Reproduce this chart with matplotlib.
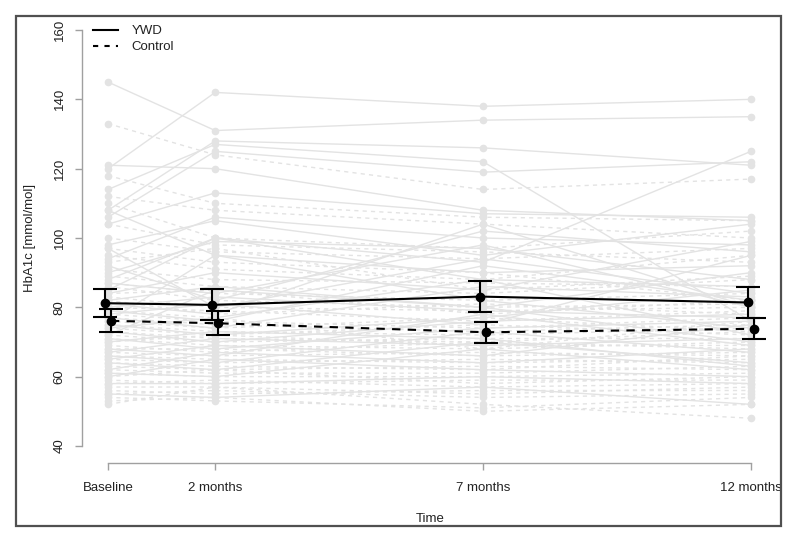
import matplotlib
matplotlib.use("Agg")
import matplotlib.pyplot as plt
from matplotlib.patches import Rectangle
from matplotlib.lines import Line2D

# ---------------- data ----------------
times = [0, 2, 7, 12]
time_labels = ["Baseline", "2 months", "7 months", "12 months"]

# individual trajectories (HbA1c, mmol/mol) at baseline, 2, 7, 12 months
ywd_subjects = [
    [145, 131, 134, 135],
    [120, 142, 138, 140],
    [108, 128, 126, 121],
    [114, 127, 122, 76],
    [106, 125, 119, 122],
    [121, 120, 108, 105],
    [104, 113, 107, 106],
    [98, 105, 95, 104],
    [88, 100, 93, 125],
    [94, 106, 100, 98],
    [92, 82, 102, 96],
    [90, 99, 97, 88],
    [108, 95, 90, 92],
    [87, 84, 98, 80],
    [85, 100, 88, 86],
    [84, 90, 85, 99],
    [97, 80, 94, 84],
    [82, 86, 80, 90],
    [81, 78, 104, 80],
    [80, 83, 79, 77],
    [79, 76, 92, 82],
    [78, 81, 75, 95],
    [77, 74, 86, 83],
    [76, 95, 82, 74],
    [75, 72, 77, 85],
    [74, 77, 88, 72],
    [73, 70, 76, 78],
    [72, 85, 80, 70],
    [71, 68, 74, 76],
    [70, 73, 71, 63],
    [68, 66, 78, 69],
    [67, 71, 69, 71],
    [66, 64, 73, 67],
    [65, 69, 66, 75],
    [64, 62, 70, 64],
    [62, 67, 64, 68],
    [61, 60, 68, 62],
    [60, 65, 62, 60],
    [58, 58, 60, 58],
    [55, 54, 57, 52],
]

control_subjects = [
    [133, 124, 114, 117],
    [118, 110, 106, 105],
    [112, 108, 104, 100],
    [110, 100, 97, 102],
    [104, 98, 96, 93],
    [100, 96, 94, 97],
    [97, 93, 90, 82],
    [95, 91, 88, 95],
    [93, 97, 85, 89],
    [91, 88, 87, 86],
    [89, 86, 84, 88],
    [87, 84, 82, 84],
    [86, 82, 80, 81],
    [84, 85, 78, 82],
    [83, 80, 79, 80],
    [82, 78, 81, 78],
    [80, 79, 76, 79],
    [79, 77, 68, 76],
    [78, 76, 74, 77],
    [77, 75, 73, 75],
    [76, 74, 77, 73],
    [75, 73, 72, 74],
    [74, 72, 75, 72],
    [73, 71, 70, 73],
    [72, 70, 71, 71],
    [71, 69, 68, 70],
    [70, 72, 69, 69],
    [69, 67, 70, 68],
    [68, 68, 66, 67],
    [67, 66, 67, 66],
    [66, 65, 64, 65],
    [65, 64, 65, 64],
    [64, 63, 62, 66],
    [63, 62, 63, 62],
    [62, 61, 61, 63],
    [61, 60, 60, 61],
    [60, 62, 58, 60],
    [59, 58, 59, 59],
    [58, 59, 57, 58],
    [57, 57, 55, 57],
    [56, 55, 56, 56],
    [55, 56, 54, 55],
    [54, 53, 51, 54],
    [53, 54, 50, 52],
    [52, 57, 52, 48],
]

# group means with error bars
ywd_mean = [81.2, 80.7, 83.1, 81.4]
ywd_lower = [77.1, 76.2, 78.6, 77.0]
ywd_upper = [85.3, 85.2, 87.6, 85.9]
ctl_mean = [76.1, 75.4, 72.8, 73.8]
ctl_lower = [72.8, 72.0, 69.6, 70.9]
ctl_upper = [79.6, 78.8, 75.9, 77.0]

# ---------------- plot ----------------
W, H = 800, 542
fig = plt.figure(figsize=(W / 100, H / 100), dpi=100)
plt.rcParams["font.family"] = ["Liberation Sans", "DejaVu Sans"]
FS = 9.5
TXT = "#222222"

# outer frame of the screenshot
fig.patches.append(Rectangle((16 / W, 1 - 526 / H), (781 - 16) / W, (526 - 16) / H,
                             transform=fig.transFigure, fill=False,
                             edgecolor="#505050", linewidth=1.6, zorder=0))

left, right = 82.3 / W, 776.7 / W
top, bottom = 1 - 13.4 / H, 1 - 462.6 / H
ax = fig.add_axes([left, bottom, right - left, top - bottom])
ax.set_xlim(-0.48, 12.48)
ax.set_ylim(35.2, 164.8)
ax.patch.set_alpha(0)

grey = "#e3e3e3"
for s in ywd_subjects:
    ax.plot(times, s, color=grey, lw=1.0, ls="-", marker="o", ms=4.5,
            mec=grey, mfc=grey, zorder=1)
for s in control_subjects:
    ax.plot(times, s, color=grey, lw=1.0, ls=(0, (3, 3)), marker="o", ms=4.5,
            mec=grey, mfc=grey, zorder=1)

off = 0.055
xy = [t - off for t in times]
xc = [t + off for t in times]
ax.errorbar(xy, ywd_mean,
            yerr=[[m - l for m, l in zip(ywd_mean, ywd_lower)],
                  [u - m for m, u in zip(ywd_mean, ywd_upper)]],
            color="black", lw=1.5, elinewidth=1.5, capsize=8.3, capthick=1.5,
            marker="o", ms=6, ls="-", zorder=3)
ax.errorbar(xc, ctl_mean,
            yerr=[[m - l for m, l in zip(ctl_mean, ctl_lower)],
                  [u - m for m, u in zip(ctl_mean, ctl_upper)]],
            color="black", lw=1.5, elinewidth=1.5, capsize=8.3, capthick=1.5,
            marker="o", ms=6, ls=(0, (4, 3.5)), zorder=3)

# axes styling (R base style)
for sp in ["top", "right"]:
    ax.spines[sp].set_visible(False)
ax.spines["left"].set_bounds(40, 160)
ax.spines["bottom"].set_bounds(0, 12)
for sp in ["left", "bottom"]:
    ax.spines[sp].set_color("#a0a0a0")
    ax.spines[sp].set_linewidth(1.0)

ax.set_yticks([40, 60, 80, 100, 120, 140, 160])
ax.set_xticks(times)
ax.set_xticklabels(time_labels)
ax.tick_params(axis="both", direction="out", length=5, width=1.0,
               color="#a0a0a0", labelsize=FS, labelcolor=TXT)
ax.tick_params(axis="x", pad=9)
ax.tick_params(axis="y", pad=7)
for lbl in ax.get_yticklabels():
    lbl.set_rotation(90)
    lbl.set_va("center")

fig.text(30 / W, 1 - 238 / H, "HbA1c [mmol/mol]", rotation=90, ha="center",
         va="center", fontsize=FS, color=TXT)
fig.text(430 / W, 1 - 519 / H, "Time", ha="center", va="center",
         fontsize=FS, color=TXT)

# legend
handles = [Line2D([], [], color="black", lw=1.5, ls="-"),
           Line2D([], [], color="black", lw=1.5, ls=(0, (2.5, 3)))]
leg = ax.legend(handles, ["YWD", "Control"], loc="upper left",
                bbox_to_anchor=(93 / W, 1 - 25 / H), bbox_transform=fig.transFigure,
                frameon=False, fontsize=FS, handlelength=1.9, handletextpad=1.0,
                labelspacing=0.3, borderaxespad=0, borderpad=0)
for t in leg.get_texts():
    t.set_color(TXT)

fig.savefig("out.png", dpi=100)
